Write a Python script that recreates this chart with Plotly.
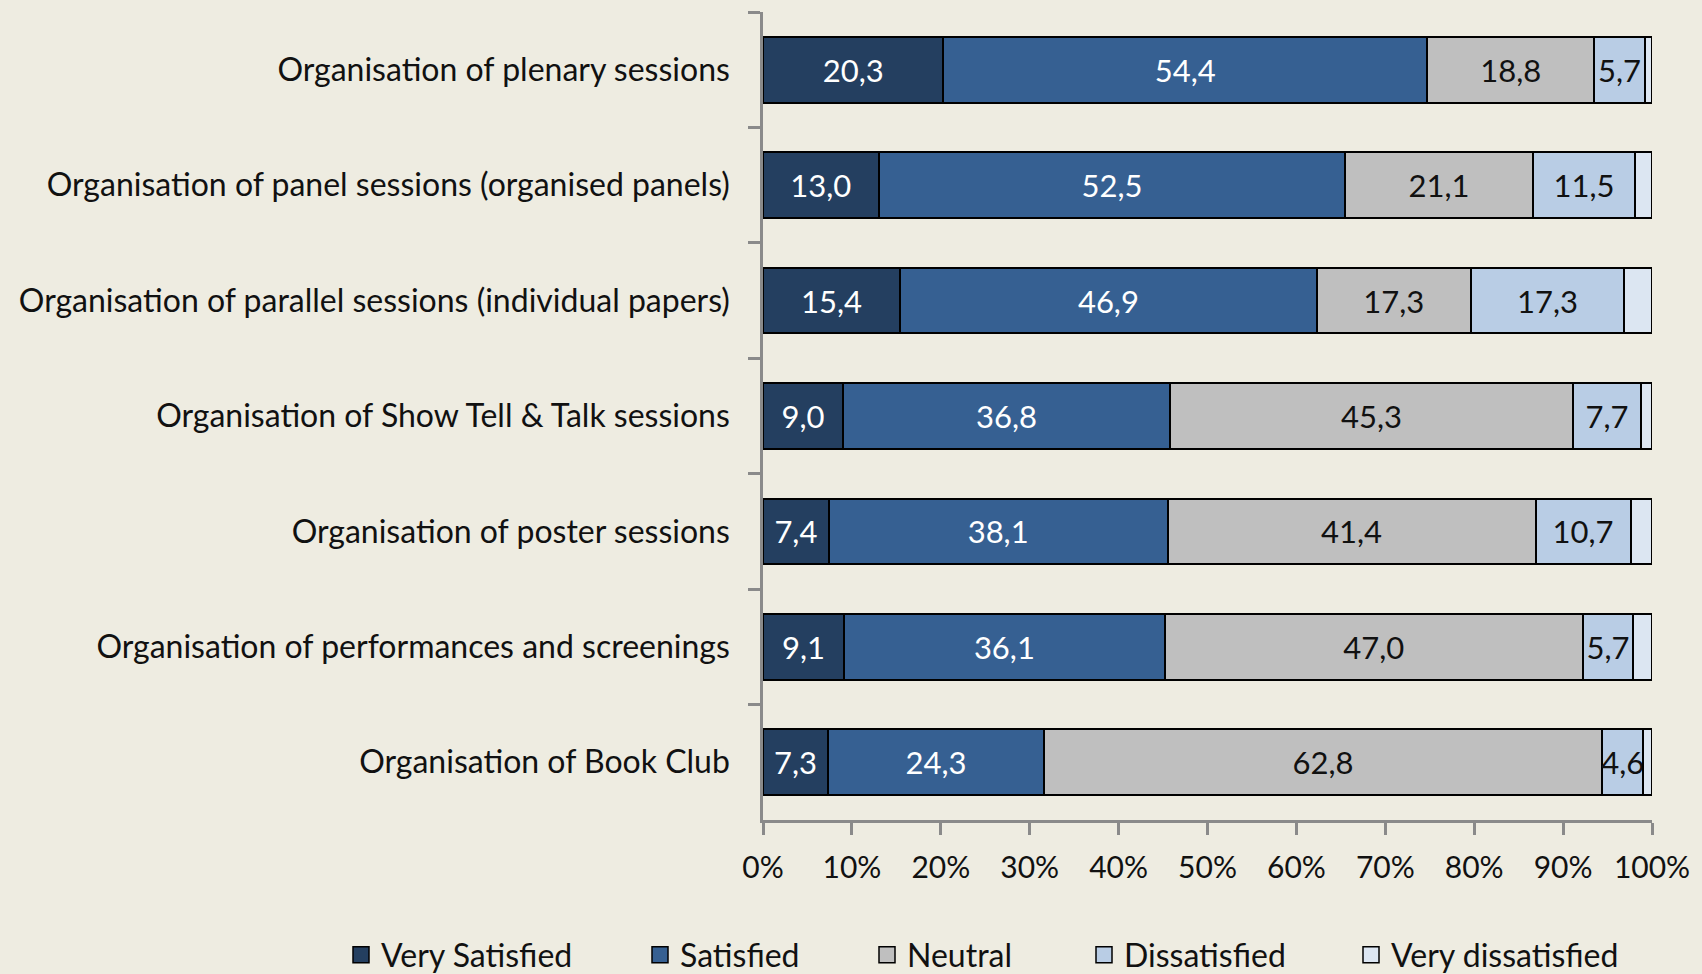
import plotly.graph_objects as go

categories = [
    "Organisation of plenary sessions",
    "Organisation of panel sessions (organised panels)",
    "Organisation of parallel sessions (individual papers)",
    "Organisation of Show Tell & Talk sessions",
    "Organisation of poster sessions",
    "Organisation of performances and screenings",
    "Organisation of Book Club",
]
very_satisfied = [20.3, 13.0, 15.4, 9.0, 7.4, 9.1, 7.3]
satisfied = [54.4, 52.5, 46.9, 36.8, 38.1, 36.1, 24.3]
neutral = [18.8, 21.1, 17.3, 45.3, 41.4, 47.0, 62.8]
dissatisfied = [5.7, 11.5, 17.3, 7.7, 10.7, 5.7, 4.6]
very_dissatisfied = [0.8, 1.9, 3.1, 1.2, 2.4, 2.1, 1.0]

x_ticks = [0, 10, 20, 30, 40, 50, 60, 70, 80, 90, 100]

series = [
    ("Very Satisfied", very_satisfied, "#243F60", "white", True),
    ("Satisfied", satisfied, "#366092", "white", True),
    ("Neutral", neutral, "#BFBFBF", "#111111", True),
    ("Dissatisfied", dissatisfied, "#B9CDE5", "#111111", True),
    ("Very dissatisfied", very_dissatisfied, "#DCE6F2", "#111111", False),
]

# legend entry left positions (px)
legend_x = [341, 640, 867, 1084, 1351]

FONT = "Lato, 'Open Sans', sans-serif"
W, H = 1702, 974
AXIS_GRAY = "#8A8A8A"

fig = go.Figure()
for i, (name, vals, color, tcolor, show_text) in enumerate(series):
    fig.add_trace(go.Bar(
        y=categories,
        x=vals,
        name=name,
        orientation="h",
        showlegend=False,
        marker=dict(color=color, line=dict(color="#000000", width=2)),
        text=[f"{v:.1f}".replace(".", ",") for v in vals] if show_text else None,
        textposition="inside" if show_text else "none",
        insidetextanchor="middle",
        textangle=0,
        textfont=dict(color=tcolor, size=31, family=FONT),
        constraintext="none",
        cliponaxis=False,
        hoverinfo="x+y+name",
    ))

# legend-only entries (bigger square swatches)
for i, (name, vals, color, tcolor, show_text) in enumerate(series):
    fig.add_trace(go.Scatter(
        x=[None],
        y=[None],
        mode="markers",
        name=name,
        legend="legend" if i == 0 else f"legend{i+1}",
        marker=dict(symbol="square", size=16, color=color,
                    line=dict(color="#000000", width=1.5)),
        showlegend=True,
        hoverinfo="skip",
    ))

legend_common = dict(
    orientation="h",
    xref="container",
    yref="container",
    xanchor="left",
    yanchor="middle",
    y=1 - 955 / H,
    font=dict(size=32, family=FONT, color="#111111"),
    bgcolor="rgba(0,0,0,0)",
    itemwidth=30,
)
legends = {}
for i, lx in enumerate(legend_x):
    key = "legend" if i == 0 else f"legend{i+1}"
    legends[key] = dict(legend_common, x=lx / W)

fig.update_layout(
    barmode="stack",
    bargap=0.43,
    width=W,
    height=H,
    paper_bgcolor="#EEECE1",
    plot_bgcolor="#EEECE1",
    margin=dict(l=763, r=47, t=12, b=154),
    font=dict(family=FONT, size=31, color="#111111"),
    uniformtext=dict(minsize=31, mode="show"),
    showlegend=True,
    **legends,
)

fig.update_xaxes(
    range=[0, 100],
    tickvals=x_ticks,
    ticktext=[f"{t}%" for t in x_ticks],
    ticks="outside",
    ticklen=12,
    tickwidth=2.5,
    tickcolor=AXIS_GRAY,
    showline=True,
    linecolor=AXIS_GRAY,
    linewidth=2.5,
    showgrid=False,
    zeroline=False,
    ticklabelstandoff=7,
    tickfont=dict(size=30),
)
fig.update_yaxes(
    type="category",
    categoryorder="array",
    categoryarray=categories,
    autorange="reversed",
    ticks="outside",
    tickson="boundaries",
    ticklen=12,
    tickwidth=2.5,
    tickcolor=AXIS_GRAY,
    showline=True,
    linecolor=AXIS_GRAY,
    linewidth=2.5,
    showgrid=False,
    ticklabelstandoff=24,
    tickfont=dict(size=32),
)

fig.write_html(
    "out.html",
    config={"displayModeBar": False},
    post_script="document.body.style.margin='0';document.body.style.background='#EEECE1';",
)
